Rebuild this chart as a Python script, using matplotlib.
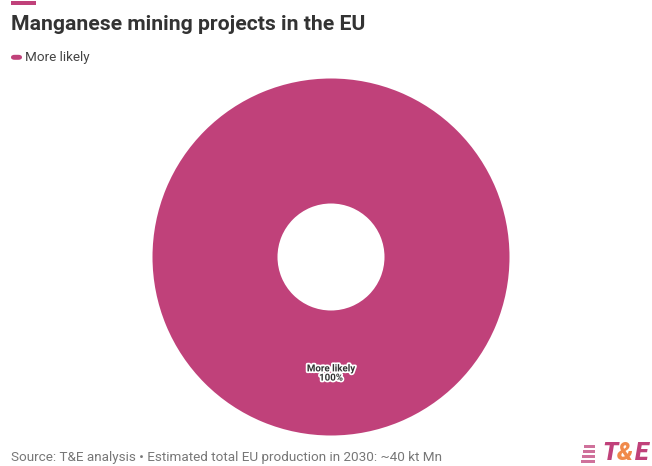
import matplotlib
matplotlib.use("Agg")
import matplotlib.pyplot as plt
import matplotlib.patheffects as pe
from matplotlib.patches import FancyBboxPatch, Rectangle

categories = ["More likely"]
values = [100]
colors = ["#C0417A"]

title = "Manganese mining projects in the EU"
source = "Source: T&E analysis \u2022 Estimated total EU production in 2030: ~40 kt Mn"

W, H = 652, 466
fig = plt.figure(figsize=(W / 100, H / 100), dpi=100)
fig.patch.set_facecolor("white")

def fx(px):
    return px / W

def fy(py):
    return 1 - py / H

# top accent bar
fig.add_artist(Rectangle((fx(11), fy(5)), fx(25), 4 / H, transform=fig.transFigure,
                         facecolor=colors[0], edgecolor="none"))

fig.text(fx(11), fy(25), title, fontsize=15.2, fontweight="bold", color="#333333",
         family="Roboto", va="center", ha="left")

# legend
fig.add_artist(FancyBboxPatch((fx(11), fy(59.8)), fx(11), 5 / H,
                              boxstyle="round,pad=0,rounding_size=0.0055",
                              transform=fig.transFigure, facecolor=colors[0],
                              edgecolor="none"))
fig.text(fx(25), fy(57), categories[0], fontsize=9.7, color="#444444",
         family="Roboto", va="center", ha="left")

# pie
cx, cy, r = 331, 257, 178.5
ax = fig.add_axes([fx(cx - r), fy(cy + r), 2 * r / W, 2 * r / H])
wedges, _ = ax.pie(values, colors=colors, startangle=90, counterclock=False,
                   radius=1.0, wedgeprops=dict(width=1 - 53.5 / r, edgecolor="none"))
ax.set_xlim(-1, 1)
ax.set_ylim(-1, 1)
ax.set_aspect("equal")
ax.axis("off")

for cat, v in zip(categories, values):
    ax.text(0, -(373 - cy) / r, f"{cat}\n{v}%", ha="center", va="center",
            fontsize=7, fontweight="bold", color="#333333", family="Roboto",
            linespacing=0.9,
            path_effects=[pe.withStroke(linewidth=2.5, foreground="white")])

# footer
fig.text(fx(11), fy(457), source, fontsize=9.7, color="#777777", family="Roboto",
         va="center", ha="left")

# logo stripes
for i, (x0, y0) in enumerate([(584, 445), (583, 450), (582, 455), (581, 460)]):
    fig.add_artist(Rectangle((fx(x0), fy(y0 + 3)), fx(595 - x0), 3 / H,
                             transform=fig.transFigure, facecolor="#C0417A",
                             edgecolor="none", alpha=0.75))
lf = dict(fontsize=18, fontweight="heavy", style="italic", family="Roboto",
          va="bottom", ha="left")
fig.text(fx(602), fy(465), "T", color="#C0417A", **lf)
fig.text(fx(617), fy(465), "&", color="#F08A4B", **lf)
fig.text(fx(635), fy(465), "E", color="#C0417A", **lf)

fig.savefig("out.png", dpi=100, facecolor="white")
